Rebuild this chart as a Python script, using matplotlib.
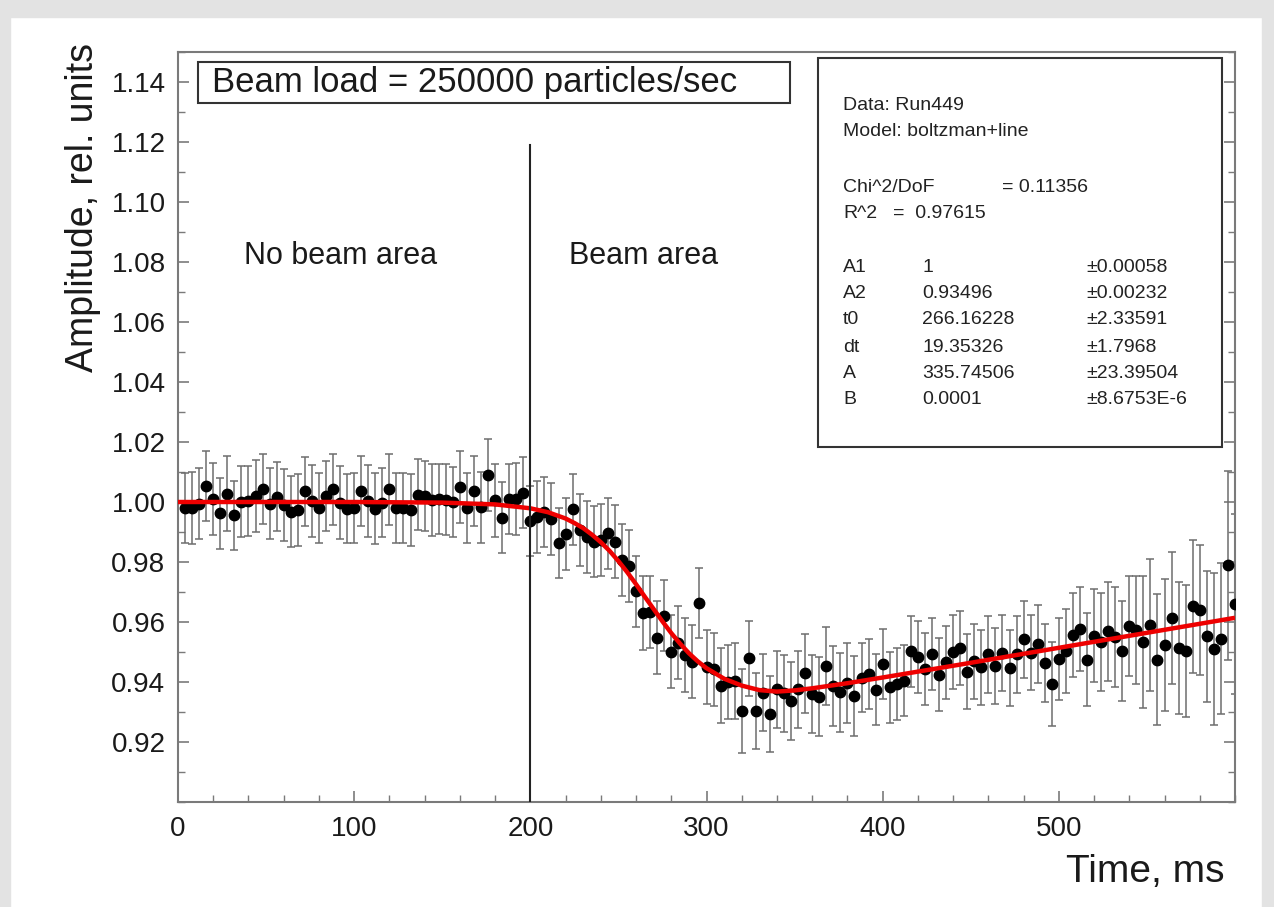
import matplotlib
matplotlib.use("Agg")
import matplotlib.pyplot as plt
from matplotlib.patches import Rectangle
from matplotlib.ticker import MultipleLocator, FixedLocator

plt.rcParams['font.family'] = ['Liberation Sans', 'DejaVu Sans']

# measured amplitude, one point every 4 ms
amp_no_beam = [0.998, 0.998, 0.9995, 1.0054, 1.001, 0.9962, 1.0028, 0.9956, 1.0001, 1.0004,
               1.002, 1.0043, 0.9995, 1.0018, 0.9991, 0.9968, 0.9974, 1.0036, 1.0004, 0.998,
               1.002, 1.0042, 0.9998, 0.9978, 0.998, 1.0036, 1.0004, 0.9978, 0.9998, 1.0042,
               0.998, 0.998, 0.9974, 1.0025, 1.002, 1.0007, 1.001, 1.0008, 1.0001, 1.0049,
               0.998, 1.0036, 0.9982, 1.009, 1.0006, 0.9948, 1.001, 1.001, 1.0031]
amp_drop = [0.9937, 0.9951, 0.9968, 0.9943, 0.9863, 0.9893, 0.9976, 0.9907, 0.9884, 0.9868,
            0.9872, 0.9896, 0.9868, 0.9807, 0.9787, 0.9703, 0.9630, 0.9635, 0.9548, 0.9621,
            0.9501, 0.9531, 0.9490, 0.9468, 0.9664, 0.9451, 0.9442, 0.9387, 0.9401, 0.9403,
            0.9304, 0.9479, 0.9304, 0.9364, 0.9293, 0.9376, 0.9362, 0.9338, 0.9376, 0.9429,
            0.9359, 0.9351, 0.9454, 0.9387, 0.9366, 0.9396, 0.9354]
amp_recover = [0.9415, 0.9427, 0.9374, 0.9460, 0.9382, 0.9393, 0.9404, 0.9502, 0.9483, 0.9444,
               0.9492, 0.9424, 0.9466, 0.9500, 0.9514, 0.9435, 0.9470, 0.9449, 0.9492, 0.9453,
               0.9498, 0.9447, 0.9492, 0.9542, 0.9498, 0.9528, 0.9464, 0.9393, 0.9477, 0.9503,
               0.9556, 0.9576, 0.9475, 0.9554, 0.9533, 0.9569, 0.9550, 0.9503, 0.9587, 0.9572,
               0.9533, 0.9589, 0.9475, 0.9522, 0.9612, 0.9513, 0.9505, 0.9653, 0.9640, 0.9552,
               0.9511, 0.9545, 0.9789, 0.9660]

err_no_beam = [0.0118, 0.0120, 0.0117, 0.0116, 0.0120, 0.0118, 0.0125, 0.0115, 0.0118, 0.0117,
               0.0120, 0.0117, 0.0119, 0.0116, 0.0120, 0.0118, 0.0119, 0.0115, 0.0120, 0.0117,
               0.0118, 0.0119, 0.0121, 0.0116, 0.0118, 0.0117, 0.0120, 0.0118, 0.0116, 0.0119,
               0.0117, 0.0118, 0.0120, 0.0117, 0.0118, 0.0121, 0.0116, 0.0119, 0.0117, 0.0120,
               0.0118, 0.0117, 0.0119, 0.0120, 0.0122, 0.0118, 0.0117, 0.0119, 0.0118]
err_drop = [0.0118, 0.0120, 0.0117, 0.0119, 0.0117, 0.0120, 0.0118, 0.0121, 0.0119, 0.0118,
            0.0120, 0.0119, 0.0121, 0.0119, 0.0120, 0.0118, 0.0122, 0.0120, 0.0121, 0.0119,
            0.0122, 0.0121, 0.0123, 0.0122, 0.0117, 0.0124, 0.0123, 0.0125, 0.0124, 0.0126,
            0.0140, 0.0125, 0.0127, 0.0128, 0.0126, 0.0129, 0.0128, 0.0130, 0.0129, 0.0131,
            0.0130, 0.0132, 0.0131, 0.0133, 0.0132, 0.0133, 0.0134]
err_recover = [0.0116, 0.0117, 0.0118, 0.0117, 0.0118, 0.0119, 0.0118, 0.0119, 0.0120, 0.0121,
               0.0120, 0.0122, 0.0121, 0.0122, 0.0123, 0.0124, 0.0125, 0.0126, 0.0127, 0.0126,
               0.0127, 0.0128, 0.0129, 0.0127, 0.0126, 0.0130, 0.0130, 0.0140, 0.0137, 0.0140,
               0.0140, 0.0140, 0.0154, 0.0155, 0.0164, 0.0166, 0.0167, 0.0166, 0.0166, 0.0180,
               0.0219, 0.0220, 0.0219, 0.0220, 0.0220, 0.0219, 0.0220, 0.0222, 0.0218, 0.0219,
               0.0254, 0.0253, 0.0315, 0.0300]

# boltzman+line fit curve
fit_t = [0, 50, 100, 150, 180, 200, 210, 220, 225, 230, 235, 240, 245, 250, 255, 260, 265,
         270, 275, 280, 285, 290, 295, 300, 310, 320, 330, 340, 350, 360, 380, 400, 450,
         500, 550, 600]
fit_amp = [1.0000, 1.0000, 1.0000, 0.9998, 0.9992, 0.9979, 0.9966, 0.9945, 0.9930, 0.9913,
           0.9891, 0.9866, 0.9837, 0.9803, 0.9766, 0.9726, 0.9684, 0.9643, 0.9602, 0.9563,
           0.9528, 0.9496, 0.9469, 0.9446, 0.9411, 0.9388, 0.9373, 0.9368, 0.9372, 0.9379,
           0.9396, 0.9415, 0.9464, 0.9514, 0.9564, 0.9614]

fit_lines = [("Data: Run449", "", ""),
             ("Model: boltzman+line", "", "")]
fit_params = [("A1", "1", "\u00b10.00058"),
              ("A2", "0.93496", "\u00b10.00232"),
              ("t0", "266.16228", "\u00b12.33591"),
              ("dt", "19.35326", "\u00b11.7968"),
              ("A", "335.74506", "\u00b123.39504"),
              ("B", "0.0001", "\u00b18.6753E-6")]

amp = amp_no_beam + amp_drop + amp_recover
err = err_no_beam + err_drop + err_recover
t = [4 * (i + 1) for i in range(len(amp))]

fig = plt.figure(figsize=(12.74, 9.07), dpi=100)
fig.patch.set_facecolor('white')
# grey window frame round the picture
grey = '#e3e3e3'
fig.add_artist(Rectangle((0, 1 - 17 / 907), 1, 17 / 907, transform=fig.transFigure, color=grey, zorder=-5))
fig.add_artist(Rectangle((0, 0), 10 / 1274, 1, transform=fig.transFigure, color=grey, zorder=-5))
fig.add_artist(Rectangle((1 - 12 / 1274, 0), 12 / 1274, 1, transform=fig.transFigure, color=grey, zorder=-5))

ax = fig.add_axes([178 / 1274, 1 - 802 / 907, 1057 / 1274, 750 / 907])

ax.errorbar(t, amp, yerr=err, fmt='none', ecolor='#6e6e6e', elinewidth=1.1,
            capsize=3, capthick=1.1, zorder=2)
ax.plot(t, amp, 'o', color='black', markersize=7.5, zorder=3, clip_on=True)
ax.plot(fit_t, fit_amp, color='#ee0000', linewidth=3.2, zorder=4, solid_capstyle='butt')

ax.plot([200, 200], [0.90, 1.119], color='#222222', linewidth=1.5, zorder=5)

ax.set_xlim(0, 600)
ax.set_ylim(0.90, 1.15)
ax.xaxis.set_major_locator(FixedLocator([0, 100, 200, 300, 400, 500]))
ax.xaxis.set_minor_locator(MultipleLocator(20))
ax.yaxis.set_major_locator(FixedLocator([0.92, 0.94, 0.96, 0.98, 1.00, 1.02, 1.04,
                                         1.06, 1.08, 1.10, 1.12, 1.14]))
ax.yaxis.set_minor_locator(MultipleLocator(0.01))
ax.yaxis.set_major_formatter(plt.FuncFormatter(lambda v, p: f"{v:.2f}"))

for s in ax.spines.values():
    s.set_color('#7a7a7a')
    s.set_linewidth(1.5)
ax.tick_params(which='both', direction='in', colors='#7a7a7a', labelcolor='#1a1a1a',
               labelsize=20, right=True, top=False)
ax.tick_params(which='major', length=8, width=1.2)
ax.tick_params(which='minor', length=5, width=1.0)
ax.tick_params(axis='x', pad=10)
ax.tick_params(axis='y', pad=9)

fig.text(83 / 1274, 1 - 207 / 907, "Amplitude, rel. units", rotation=90,
         ha='center', va='center', fontsize=27, color='#1a1a1a')
fig.text(1224 / 1274, 1 - 872 / 907, "Time, ms", ha='right', va='center',
         fontsize=28, color='#1a1a1a')

# beam load box
ax.add_patch(Rectangle((0.0189, 0.932), 0.560, 0.0547, transform=ax.transAxes,
                       fill=False, edgecolor='#333333', linewidth=1.5, zorder=6))
ax.text(0.0322, 0.959, "Beam load = 250000 particles/sec", transform=ax.transAxes,
        ha='left', va='center', fontsize=25, color='#1a1a1a', zorder=7)

ax.text(92.5, 1.082, "No beam area", ha='center', va='center', fontsize=22, color='#1a1a1a')
ax.text(264, 1.082, "Beam area", ha='center', va='center', fontsize=22, color='#1a1a1a')

# fit results box
ax.add_patch(Rectangle((0.6055, 0.4733), 0.3822, 0.5187, transform=ax.transAxes,
                       facecolor='white', edgecolor='#333333', linewidth=1.5, zorder=6))


def px_to_axes(xp, yp):
    return (xp - 178) / 1057, (802 - yp) / 750


box_fs = 14
box_col = '#222222'
for (label, _, _), yp in zip(fit_lines, [106, 132]):
    x0, y0 = px_to_axes(843, yp)
    ax.text(x0, y0, label, transform=ax.transAxes, fontsize=box_fs, color=box_col,
            va='center', ha='left', zorder=7)

x0, y0 = px_to_axes(843, 187)
ax.text(x0, y0, "Chi^2/DoF", transform=ax.transAxes, fontsize=box_fs, color=box_col,
        va='center', zorder=7)
x1, _ = px_to_axes(1002, 187)
ax.text(x1, y0, "= 0.11356", transform=ax.transAxes, fontsize=box_fs, color=box_col,
        va='center', zorder=7)
x0, y0 = px_to_axes(843, 213)
ax.text(x0, y0, "R^2", transform=ax.transAxes, fontsize=box_fs, color=box_col,
        va='center', zorder=7)
x1, _ = px_to_axes(893, 213)
ax.text(x1, y0, "=  0.97615", transform=ax.transAxes, fontsize=box_fs, color=box_col,
        va='center', zorder=7)

for (name, val, pm), yp in zip(fit_params, [267, 293, 320, 347, 373, 400]):
    xa, ya = px_to_axes(843, yp)
    xb, _ = px_to_axes(922, yp)
    xc, _ = px_to_axes(1086, yp)
    ax.text(xa, ya, name, transform=ax.transAxes, fontsize=box_fs, color=box_col, va='center', zorder=7)
    ax.text(xb, ya, val, transform=ax.transAxes, fontsize=box_fs, color=box_col, va='center', zorder=7)
    ax.text(xc, ya, pm, transform=ax.transAxes, fontsize=box_fs, color=box_col, va='center', zorder=7)

fig.savefig("out.png", dpi=100)
